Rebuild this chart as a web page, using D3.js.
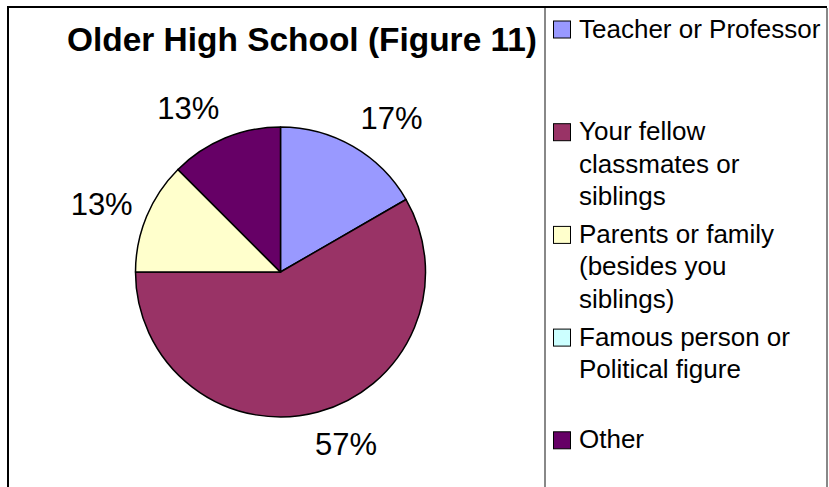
<!DOCTYPE html>
<html>
<head>
<meta charset="utf-8">
<script src="https://cdn.jsdelivr.net/npm/d3@7"></script>
<style>
  body { margin: 0; background: #fff; }
  text { font-family: Arial, "Liberation Sans", sans-serif; }
</style>
</head>
<body>
<div id="chart"></div>
<script>
// data (slice sizes from the angles, labels as printed)
var categories = ["Teacher or Professor", "Your fellow classmates or siblings",
                  "Parents or family (besides you siblings)", "Famous person or Political figure", "Other"];
var values = [4, 14, 3, 0, 3];
var valueLabels = ["17%", "57%", "13%", "0%", "13%"];
var colors = ["#9999ff", "#993366", "#ffffcc", "#ccffff", "#660066"];
var legendLines = [["Teacher or Professor"],
                   ["Your fellow", "classmates or", "siblings"],
                   ["Parents or family", "(besides you", "siblings)"],
                   ["Famous person or", "Political figure"],
                   ["Other"]];

var width = 829, height = 487;
var cx = 280.5, cy = 272, radius = 145;

var svg = d3.select("#chart").append("svg")
    .attr("width", width)
    .attr("height", height);

// frame: black plot border, grey legend box
svg.append("line").attr("x1", 7).attr("x2", 827).attr("y1", 7).attr("y2", 7)
    .attr("stroke", "#000").attr("stroke-width", 2);
svg.append("line").attr("x1", 8).attr("x2", 8).attr("y1", 6).attr("y2", height)
    .attr("stroke", "#000").attr("stroke-width", 2);
[545, 827].forEach(function(x) {
  svg.append("line").attr("x1", x).attr("x2", x).attr("y1", 8).attr("y2", height)
      .attr("stroke", "#888").attr("stroke-width", 2);
});

// title
svg.append("text")
    .attr("x", 67)
    .attr("y", 51)
    .attr("textLength", 470)
    .attr("lengthAdjust", "spacingAndGlyphs")
    .style("font-size", "33px")
    .style("font-weight", "bold")
    .text("Older High School (Figure 11)");

// pie
var pie = d3.pie().sort(null).value(function(d) { return d; });
var arcs = pie(values);
var arc = d3.arc().innerRadius(0).outerRadius(radius);
var anchorArc = d3.arc().innerRadius(radius + 15).outerRadius(radius + 15);

var g = svg.append("g")
    .attr("transform", "translate(" + cx + "," + cy + ")");

g.selectAll(".slice")
    .data(arcs)
    .enter().append("path")
    .attr("class", "slice")
    .attr("d", arc)
    .attr("fill", function(d, i) { return colors[i]; })
    .attr("stroke", "#000")
    .attr("stroke-width", 1.5)
    .attr("stroke-linejoin", "round");

// labels sit just outside the rim, pushed away from the pie by their own box
g.selectAll(".lbl")
    .data(arcs.filter(function(d) { return d.value > 0; }))
    .enter().append("text")
    .attr("class", "lbl")
    .style("font-size", "31px")
    .attr("text-anchor", "middle")
    .text(function(d) { return valueLabels[d.index]; })
    .each(function(d) {
      var p = anchorArc.centroid(d);
      var a = (d.startAngle + d.endAngle) / 2;
      var w = this.getComputedTextLength() / 2;
      var fx = Math.max(-1, Math.min(1, Math.sin(a) * 3));
      var fy = Math.max(-1, Math.min(1, Math.cos(a)));
      d3.select(this)
        .attr("x", p[0] + w * fx)
        .attr("y", p[1] - 18 * fy + 11);
    });

// legend
var ly = d3.scaleLinear().domain([0, 4]).range([37.5, 448.3]);
var legend = svg.selectAll(".legend")
    .data(categories)
    .enter().append("g")
    .attr("class", "legend")
    .attr("transform", function(d, i) { return "translate(0," + ly(i) + ")"; });

legend.append("rect")
    .attr("x", 553.5)
    .attr("y", -16.5)
    .attr("width", 17)
    .attr("height", 17)
    .attr("fill", function(d, i) { return colors[i]; })
    .attr("stroke", "#000")
    .attr("stroke-width", 1);

legend.append("text")
    .attr("x", 579)
    .style("font-size", "26px")
    .each(function(d, i) {
      var t = d3.select(this);
      legendLines[i].forEach(function(line, j) {
        t.append("tspan").attr("x", 579).attr("y", j * 32.5).text(line);
      });
    });
</script>
</body>
</html>
